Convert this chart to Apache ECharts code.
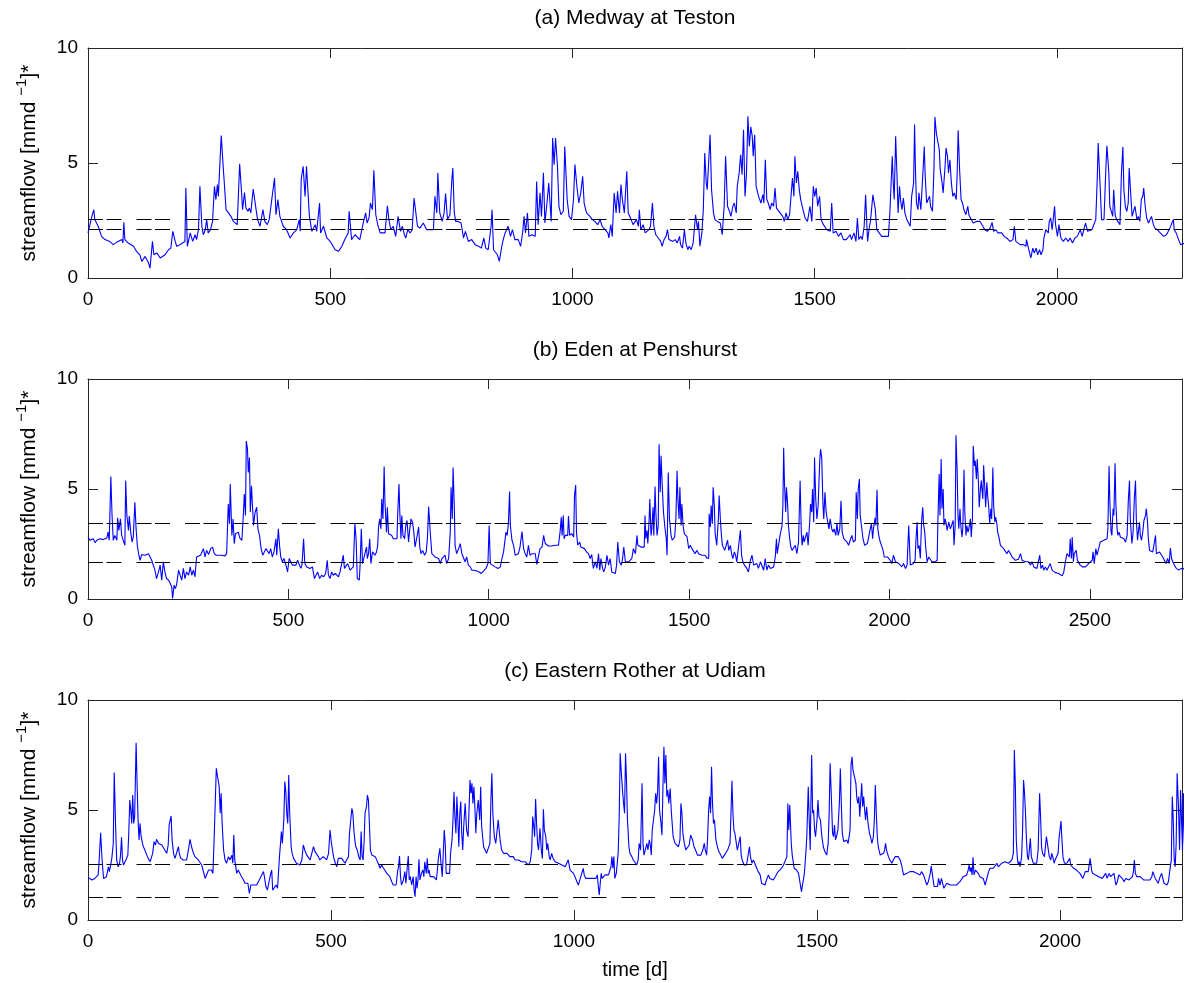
<!DOCTYPE html>
<html>
<head>
<meta charset="utf-8">
<script src="https://cdn.jsdelivr.net/npm/echarts@6/dist/echarts.min.js"></script>
<style>
html, body { margin: 0; background: #fff; }
#chart { width: 1194px; height: 983px; }
</style>
</head>
<body>
<div id="chart"></div>
<script>
// panel titles, axis ranges and tick labels
const titles = ['(a) Medway at Teston', '(b) Eden at Penshurst', '(c) Eastern Rother at Udiam'];
const xMax = [2258, 2730, 2251];
const xStep = 500;
const yTicks = [0, 5, 10];

// dashed reference levels per catchment
const medwayLevels = [2.57, 2.13];
const edenLevels = [3.46, 1.68];
const rotherLevels = [2.52, 1.05];

// [day, streamflow]
const medway = [
[0,1.96],[8,2.68],[12,2.97],[14,2.54],[21,2.25],[28,1.81],[35,1.67],[45,1.59],[52,1.45],[59,1.55],[70,1.67],[72,1.52],[74,2.42],[76,1.67],[83,1.52],[87,1.59],[94,1.38],[100,1.16],[107,1.01],[111,0.72],[118,0.94],[125,0.65],[128,0.43],[133,1.59],[136,1.01],[142,1.09],[149,0.87],[159,1.01],[166,1.23],[171,1.30],[175,2.03],[180,1.59],[183,1.38],[190,1.45],[195,1.52],[200,1.59],[202,3.91],[205,1.38],[211,1.96],[216,1.59],[221,1.88],[224,1.67],[228,2.10],[231,3.99],[235,2.25],[238,1.88],[242,2.10],[245,2.54],[248,1.96],[253,2.10],[257,2.46],[261,3.99],[264,3.41],[267,4.06],[269,3.55],[275,6.19],[279,4.86],[285,2.97],[290,2.83],[295,2.68],[300,2.46],[303,2.54],[308,2.32],[313,4.97],[317,3.70],[319,2.97],[323,3.72],[326,3.04],[330,2.90],[333,3.04],[336,2.83],[341,3.87],[345,3.26],[350,2.54],[355,2.25],[361,2.97],[365,2.46],[370,2.32],[374,2.54],[385,4.35],[388,2.75],[392,3.41],[396,2.68],[403,2.25],[410,2.10],[417,1.74],[424,1.96],[431,2.10],[436,2.54],[438,2.03],[440,4.28],[444,4.86],[448,3.55],[451,4.86],[457,2.68],[462,2.03],[469,2.32],[472,2.03],[478,3.26],[480,1.96],[486,2.25],[493,1.74],[500,1.59],[510,1.23],[517,1.16],[524,1.38],[530,1.67],[537,1.96],[539,2.90],[544,1.67],[551,1.88],[561,1.67],
[568,2.39],[573,2.83],[576,2.39],[580,2.61],[583,3.26],[587,2.97],[590,4.68],[594,2.75],[598,2.32],[603,1.96],[607,1.88],[613,1.96],[618,3.14],[621,2.54],[625,2.10],[630,2.25],[635,1.81],[640,2.68],[645,2.03],[649,2.25],[653,1.88],[656,1.74],[660,2.10],[665,1.96],[669,2.10],[673,3.48],[677,3.41],[680,2.25],[685,2.17],[692,2.39],[699,2.10],[706,2.10],[713,2.10],[716,3.55],[720,2.83],[722,4.57],[726,2.83],[731,2.46],[735,2.83],[738,3.67],[742,2.54],[747,2.75],[751,4.28],[753,4.78],[756,2.83],[759,2.46],[764,2.46],[770,2.39],[775,1.74],[779,2.03],[785,1.59],[792,1.67],[799,1.45],[806,1.38],[812,1.30],[817,1.74],[821,1.30],[826,1.23],[832,2.25],[834,2.97],[837,1.23],[841,1.30],[845,1.01],[849,0.72],[854,1.38],[857,1.67],[861,1.96],[864,1.88],[867,2.25],[872,1.81],[876,2.10],[881,1.67],[888,1.67],[893,1.38],[897,1.96],[900,2.68],[903,1.96],[907,2.83],[910,1.81],[916,1.88],[923,1.81],[926,4.20],[929,2.32],[933,3.70],[936,2.68],[940,4.57],[943,2.39],[948,3.41],[951,4.13],[956,2.46],[959,6.09],[962,4.93],[965,6.09],[969,4.86],[972,3.12],[976,2.75],[981,2.90],[984,5.72],[989,3.41],[993,2.68],[998,2.54],[1002,3.41],[1005,4.93],[1009,4.00],[1013,3.26],[1017,3.70],[1021,4.42],[1024,3.26],[1029,2.83],[1036,2.68],[1041,2.54],[1046,2.46],[1052,2.32],[1057,2.54],[1061,2.25],[1067,2.10],[1073,1.96],[1075,1.74],[1079,2.32],[1082,1.81],[1086,3.70],[1090,2.83],[1093,3.77],[1097,2.83],[1100,4.06],[1103,3.41],[1107,2.83],[1112,4.64],[1115,2.83],[1121,2.54],[1125,2.32],[1129,2.39],
[1132,2.54],[1136,2.25],[1138,2.97],[1141,2.10],[1146,2.32],[1150,1.96],[1153,1.88],[1158,2.10],[1161,2.25],[1165,3.26],[1168,2.25],[1172,1.88],[1177,1.74],[1182,1.59],[1185,1.38],[1189,1.67],[1193,1.81],[1196,2.10],[1199,1.67],[1203,1.74],[1207,1.59],[1212,1.67],[1216,1.52],[1221,1.81],[1223,1.45],[1227,1.30],[1231,2.10],[1234,1.52],[1238,1.23],[1241,1.38],[1245,1.23],[1249,1.52],[1254,2.75],[1258,2.10],[1260,2.46],[1263,1.38],[1267,1.96],[1270,2.97],[1273,5.43],[1276,4.13],[1278,3.84],[1281,3.91],[1284,6.23],[1287,3.84],[1291,2.83],[1294,2.54],[1299,2.46],[1305,2.39],[1309,1.88],[1313,3.12],[1316,5.29],[1320,3.12],[1324,2.90],[1327,2.68],[1331,3.12],[1334,3.26],[1338,2.83],[1340,3.99],[1344,4.57],[1347,5.36],[1350,4.49],[1353,6.45],[1356,3.55],[1359,4.49],[1362,7.03],[1365,5.72],[1368,6.57],[1371,6.16],[1373,5.29],[1376,6.23],[1379,3.99],[1384,3.55],[1389,3.26],[1393,3.62],[1395,3.26],[1398,5.14],[1401,3.41],[1404,3.26],[1408,2.97],[1411,3.26],[1415,3.12],[1418,3.91],[1421,3.04],[1426,2.90],[1430,2.83],[1434,2.68],[1437,2.46],[1441,2.83],[1444,2.54],[1448,2.75],[1451,3.55],[1454,4.35],[1457,3.55],[1459,5.29],[1462,4.13],[1465,4.64],[1468,3.84],[1471,3.41],[1475,3.04],[1480,2.61],[1485,2.46],[1490,3.12],[1494,2.46],[1497,3.99],[1500,3.55],[1503,3.91],[1506,3.12],[1510,3.55],[1513,2.54],[1518,2.32],[1525,2.10],[1532,2.03],[1535,3.26],[1538,1.96],[1544,2.03],[1549,1.81],[1554,1.96],[1559,1.67],[1565,1.67],[1569,1.59],[1573,1.88],[1576,1.67],[1581,1.96],[1585,1.59],[1588,2.61],[1591,1.67],[1595,1.81],[1598,1.67],[1602,2.25],[1605,3.62],[1609,1.59],[1613,2.25],[1615,2.46],[1620,3.62],[1622,3.70],[1625,2.97],[1628,2.10],[1633,1.96],[1638,1.81],[1645,1.81],[1652,1.81],[1655,2.83],[1660,5.29],[1662,4.13],[1664,3.41],[1667,6.16],[1670,4.28],[1672,2.83],[1675,3.99],[1677,3.41],[1680,2.97],[1683,3.48],[1686,2.83],[1690,2.54],[1697,2.25],
[1700,3.55],[1704,4.13],[1706,6.67],[1708,4.57],[1710,3.26],[1713,2.97],[1715,3.70],[1719,2.97],[1721,2.90],[1724,4.86],[1726,5.72],[1728,4.42],[1731,3.26],[1734,3.41],[1737,3.55],[1739,3.12],[1743,2.90],[1746,4.71],[1748,7.00],[1751,6.30],[1754,6.23],[1757,5.58],[1759,4.71],[1762,4.28],[1765,3.70],[1769,4.86],[1771,5.65],[1774,5.29],[1776,4.57],[1779,5.14],[1782,4.13],[1785,3.55],[1788,3.70],[1792,3.41],[1794,4.57],[1796,6.42],[1799,4.71],[1802,3.41],[1805,3.26],[1808,2.97],[1812,2.75],[1816,3.12],[1818,2.75],[1823,2.54],[1827,2.39],[1834,2.46],[1841,2.46],[1847,2.25],[1851,2.10],[1856,2.03],[1862,2.17],[1866,2.42],[1869,2.03],[1874,2.10],[1878,1.96],[1882,1.96],[1886,1.96],[1891,1.81],[1896,1.74],[1903,1.59],[1909,1.67],[1912,2.25],[1915,1.59],[1919,1.52],[1924,1.45],[1931,1.45],[1936,1.38],[1937,1.67],[1941,1.30],[1946,0.87],[1950,1.30],[1953,1.09],[1957,1.30],[1960,1.01],[1964,1.23],[1967,1.01],[1971,1.23],[1973,1.74],[1977,2.10],[1982,1.96],[1984,2.46],[1987,2.61],[1990,2.10],[1995,3.12],[1997,2.32],[2001,1.81],[2004,2.32],[2008,1.74],[2013,1.59],[2018,1.74],[2023,1.59],[2027,1.74],[2032,1.52],[2037,1.74],[2042,1.81],[2048,2.10],[2052,1.81],[2056,2.17],[2059,2.39],[2063,2.03],[2067,2.10],[2072,2.10],[2076,2.17],[2080,2.54],[2083,4.28],[2085,5.87],[2089,3.99],[2092,2.54],[2097,2.54],[2101,4.86],[2103,5.75],[2107,4.57],[2109,3.12],[2113,2.83],[2115,2.68],[2117,3.84],[2120,2.75],[2123,2.54],[2127,2.46],[2130,2.32],[2133,4.57],[2136,5.70],[2138,3.84],[2141,3.12],[2144,2.90],[2147,3.26],[2149,4.78],[2152,3.70],[2155,2.68],[2158,2.61],[2161,3.12],[2165,2.54],[2168,2.68],[2171,2.46],[2174,3.41],[2177,3.55],[2179,3.91],[2182,3.12],[2185,2.61],[2189,2.39],[2192,2.42],[2195,2.68],[2199,2.32],[2202,2.17],[2207,2.10],[2213,1.96],[2220,1.81],[2226,1.88],[2230,1.81],[2233,2.17],[2237,2.25],[2240,2.54],[2242,2.10],[2246,1.96],[2251,1.67],[2255,1.45],[2259,1.38],[2264,1.52]
];

const eden = [
[0,2.82],[5,2.67],[9,2.59],[13,2.74],[18,2.56],[22,2.67],[26,2.59],[30,2.74],[34,2.67],[38,2.70],[42,2.74],[47,2.77],[50,3.04],[53,2.67],[57,5.57],[60,3.80],[63,2.67],[67,2.89],[72,2.67],[74,3.69],[77,3.12],[81,3.64],[84,2.89],[88,2.89],[92,2.44],[94,5.38],[97,3.80],[101,3.12],[103,3.77],[107,2.97],[110,2.59],[113,2.82],[117,4.40],[120,3.19],[123,2.44],[127,1.99],[130,1.76],[134,2.02],[142,1.99],[151,2.06],[155,1.91],[159,1.76],[163,1.69],[167,1.31],[171,0.93],[176,1.23],[180,1.54],[184,0.86],[188,1.69],[192,1.23],[196,0.93],[201,0.86],[205,0.78],[209,0.56],[211,0.03],[215,0.63],[218,0.48],[221,0.63],[226,1.31],[230,1.08],[234,0.86],[238,1.39],[242,0.93],[246,1.23],[251,1.08],[255,1.46],[259,1.08],[263,1.31],[267,1.01],[271,1.91],[275,1.91],[281,1.99],[288,2.29],[292,1.91],[296,2.21],[301,2.02],[306,2.29],[311,2.36],[315,2.06],[320,1.99],[325,1.99],[334,1.99],[342,1.96],[346,2.06],[350,4.32],[353,3.42],[355,5.23],[359,2.89],[362,3.64],[365,2.52],[368,2.97],[371,2.97],[375,3.04],[379,2.77],[384,2.67],[388,3.95],[390,4.77],[393,3.80],[395,7.18],[398,6.81],[400,5.75],[403,6.43],[405,3.95],[408,5.15],[410,4.40],[413,3.34],[417,3.95],[421,4.17],[424,3.19],[428,2.89],[432,2.29],[436,1.99],[440,1.91],[444,2.29],[448,2.21],[452,2.06],[456,2.29],[460,1.91],[464,2.14],[469,2.74],[471,1.99],[475,3.19],[478,2.44],[481,1.91],[485,1.69],[489,1.84],[493,1.61],[498,1.23],[502,1.84],[506,1.69],[510,1.54],[514,1.61],[519,1.54],[523,1.76],[527,1.69],[531,1.39],[534,1.54],[538,2.74],[541,1.61],[546,1.46],[550,1.54],[554,1.39],[560,1.46],[565,0.93],[569,1.08],[573,1.23],[578,0.93],[583,1.08],[588,1.01],[593,1.16],[597,1.76],[600,1.08],[604,0.93],[608,1.23],[612,1.08],[617,1.16],[621,1.08],[625,1.01],[629,1.23],[633,1.31],[637,1.99],[640,1.39],[644,1.39],[648,1.61],[654,1.31],[658,1.39],[662,1.46],[666,3.42],[669,2.74],[672,0.93],[677,0.86],
[679,1.54],[682,3.19],[685,1.61],[688,1.61],[692,2.14],[695,2.36],[697,1.84],[700,2.06],[703,2.74],[706,1.61],[710,2.14],[713,2.06],[716,1.99],[720,2.14],[723,2.44],[725,3.27],[728,3.64],[731,3.19],[733,4.55],[736,3.64],[739,6.02],[741,4.40],[745,3.04],[747,4.17],[750,2.97],[754,2.97],[758,2.89],[762,2.74],[766,2.67],[771,2.74],[773,3.95],[776,5.23],[778,3.95],[781,2.74],[783,3.80],[786,2.89],[790,2.74],[793,3.34],[796,3.57],[800,2.59],[803,3.19],[806,3.64],[810,3.49],[813,3.04],[816,2.36],[820,2.74],[825,3.27],[828,2.36],[831,2.06],[835,2.21],[840,1.99],[844,2.14],[847,2.74],[850,4.20],[854,3.04],[858,2.06],[862,1.99],[866,1.91],[870,1.99],[875,1.84],[879,1.61],[883,1.84],[887,1.76],[891,1.99],[895,1.61],[900,1.84],[904,3.04],[906,5.08],[909,3.64],[911,5.98],[914,4.25],[916,2.44],[920,2.06],[925,2.29],[929,2.52],[933,2.06],[937,2.06],[941,1.69],[945,1.91],[949,1.54],[954,1.46],[958,1.31],[964,1.31],[970,1.27],[976,1.23],[981,1.16],[987,1.27],[993,1.39],[998,1.61],[1001,3.34],[1004,1.61],[1009,1.54],[1016,1.46],[1023,1.39],[1029,1.46],[1033,1.84],[1037,2.14],[1040,2.06],[1043,3.04],[1046,2.89],[1049,3.42],[1052,4.89],[1054,3.34],[1058,2.67],[1062,2.44],[1066,1.99],[1070,1.99],[1074,2.06],[1078,2.36],[1083,3.07],[1087,2.29],[1091,2.06],[1095,1.91],[1099,2.44],[1103,1.99],[1108,2.06],[1112,1.99],[1116,2.06],[1120,1.57],[1124,1.57],[1128,2.29],[1133,2.36],[1137,2.89],[1141,2.52],[1145,2.44],[1149,2.41],[1157,2.41],[1166,2.44],[1174,2.44],[1178,3.04],[1181,3.72],[1183,2.89],[1186,3.80],[1188,2.74],[1191,2.89],[1194,2.82],[1197,2.89],[1199,3.77],[1202,2.89],[1204,2.82],[1207,2.97],[1212,2.82],[1214,4.70],[1217,5.18],[1219,3.04],[1222,2.44],[1227,2.59],[1230,2.36],[1234,2.44],[1239,2.29],[1244,2.14],[1249,2.06],[1253,1.84],[1257,2.02],[1261,1.39],[1266,1.69],[1270,1.39],[1274,2.06],[1277,1.31],[1280,1.84],[1284,1.39],[1287,1.23],[1291,1.46],[1295,1.99],[1299,1.54],[1303,1.84],[1307,1.23],[1311,1.16],[1316,1.16],[1319,1.54],[1322,2.59],[1326,1.69],[1331,1.54],[1334,1.84],[1337,2.36],[1341,1.69],[1345,1.61],[1349,1.69],[1353,1.61],[1357,1.84],[1361,2.29],[1366,2.06],
[1370,2.89],[1372,2.44],[1376,2.36],[1380,2.36],[1384,2.36],[1388,2.36],[1390,3.80],[1392,2.74],[1395,3.12],[1397,2.52],[1400,3.49],[1402,4.55],[1405,2.89],[1407,3.19],[1410,4.17],[1412,2.89],[1415,5.11],[1417,3.95],[1420,2.89],[1423,3.34],[1425,7.03],[1428,4.85],[1430,6.51],[1433,5.15],[1436,3.95],[1440,3.19],[1443,2.74],[1445,1.99],[1448,5.75],[1451,3.64],[1455,2.89],[1458,2.67],[1461,2.59],[1464,2.82],[1467,3.64],[1470,5.83],[1472,4.55],[1475,3.64],[1477,5.08],[1480,3.34],[1482,4.32],[1485,3.34],[1488,2.97],[1491,2.89],[1495,2.82],[1499,2.29],[1503,2.44],[1507,2.29],[1511,2.36],[1515,2.06],[1519,2.21],[1524,2.06],[1528,2.02],[1532,1.99],[1536,1.96],[1540,1.99],[1544,1.87],[1549,1.84],[1550,3.87],[1553,3.27],[1555,4.25],[1558,3.42],[1560,5.08],[1563,4.25],[1565,2.97],[1569,2.44],[1573,3.64],[1575,4.70],[1578,3.64],[1580,3.04],[1583,2.44],[1586,2.36],[1589,2.21],[1593,2.29],[1596,2.67],[1599,2.21],[1603,2.44],[1606,2.06],[1609,1.84],[1613,2.14],[1616,1.99],[1619,1.69],[1623,1.69],[1628,3.12],[1631,1.99],[1634,1.69],[1638,1.54],[1641,1.61],[1644,1.39],[1648,1.23],[1653,1.76],[1657,1.99],[1661,1.54],[1665,1.54],[1669,1.61],[1673,1.39],[1678,1.69],[1682,1.61],[1686,1.31],[1690,1.84],[1694,1.31],[1698,1.54],[1703,1.39],[1707,1.39],[1711,1.46],[1715,1.91],[1718,2.74],[1720,2.06],[1723,2.14],[1727,2.89],[1732,3.34],[1734,4.25],[1736,6.88],[1738,5.30],[1741,3.95],[1743,5.08],[1746,4.25],[1748,3.34],[1751,2.74],[1754,2.36],[1757,2.21],[1761,2.14],[1765,2.44],[1769,2.06],[1773,2.59],[1777,5.38],[1780,3.04],[1782,2.44],[1785,2.89],[1787,2.59],[1791,2.52],[1794,3.04],[1797,2.44],[1801,3.49],[1803,4.32],[1806,3.95],[1808,5.00],[1811,3.49],[1813,6.43],[1816,4.55],[1819,3.64],[1822,4.25],[1826,6.28],[1828,6.81],[1831,6.39],[1834,4.32],[1836,3.64],[1839,4.85],[1842,3.95],[1846,3.49],[1849,3.19],[1852,3.64],[1856,3.19],[1859,3.04],[1862,3.19],[1866,2.89],[1869,3.42],[1872,2.89],[1876,3.19],[1879,4.47],[1882,3.04],[1886,2.74],[1890,2.67],[1894,2.59],[1898,2.44],[1902,2.67],[1906,2.89],[1910,2.59],[1915,2.67],[1917,4.85],[1920,3.64],[1922,5.00],[1925,5.45],[1927,3.80],[1930,3.34],[1934,2.74],[1938,2.44],[1942,2.36],[1945,2.52],[1949,2.44],[1952,3.19],[1955,3.42],[1958,2.74],[1960,3.19],[1964,3.69],[1966,3.34],[1969,4.97],[1971,3.19],[1974,2.82],[1977,2.59],[1980,2.44],[1984,2.21],[1987,1.91],[1991,1.84],[1995,1.91],[1999,1.84],[2002,1.76],[2006,1.61],[2010,1.99],[2015,1.69],[2019,1.61],[2023,1.61],[2027,1.61],[2031,1.46],[2035,1.61],[2040,1.39],[2044,1.54],[2048,3.34],[2052,1.54],
[2056,1.61],[2060,1.61],[2064,1.76],[2066,2.67],[2069,3.49],[2071,2.29],[2074,2.44],[2077,1.84],[2080,3.49],[2083,4.17],[2085,3.42],[2088,3.04],[2090,2.44],[2094,1.69],[2098,1.91],[2102,1.84],[2106,1.69],[2110,1.76],[2114,1.69],[2119,1.76],[2121,3.64],[2124,5.68],[2126,3.80],[2129,6.36],[2131,4.10],[2134,5.00],[2136,3.34],[2139,3.64],[2141,3.49],[2144,3.12],[2148,3.49],[2152,3.19],[2156,3.12],[2159,3.57],[2161,2.44],[2164,3.34],[2166,7.44],[2169,5.75],[2171,3.80],[2173,3.19],[2176,4.10],[2178,3.34],[2181,2.82],[2183,3.19],[2186,5.87],[2188,3.95],[2191,2.89],[2193,3.34],[2196,3.04],[2198,3.19],[2202,3.64],[2204,2.82],[2207,3.64],[2209,6.96],[2212,6.05],[2214,6.28],[2217,5.45],[2219,6.36],[2222,5.30],[2224,4.17],[2227,5.00],[2229,5.38],[2233,4.55],[2235,6.08],[2238,5.00],[2240,4.17],[2243,5.30],[2245,4.70],[2248,4.10],[2250,3.42],[2253,4.10],[2255,3.64],[2258,5.98],[2260,4.25],[2263,3.49],[2265,3.72],[2268,3.42],[2270,3.04],[2273,2.82],[2277,2.44],[2281,2.44],[2285,2.29],[2289,2.21],[2293,2.06],[2297,2.21],[2302,2.06],[2306,1.91],[2310,1.99],[2314,1.76],[2318,1.84],[2322,1.81],[2327,2.06],[2331,1.76],[2335,1.69],[2339,1.69],[2343,1.76],[2347,1.69],[2352,1.54],[2356,1.69],[2360,1.46],[2364,1.54],[2368,1.39],[2372,1.39],[2375,1.99],[2378,1.39],[2382,1.54],[2385,1.31],[2389,1.46],[2393,1.31],[2397,1.39],[2401,1.61],[2406,1.31],[2410,1.23],[2414,1.20],[2418,1.11],[2422,1.16],[2426,1.08],[2431,1.05],[2435,1.23],[2439,1.69],[2443,2.06],[2446,2.14],[2449,1.91],[2451,2.74],[2454,1.84],[2456,2.82],[2459,1.69],[2461,2.06],[2464,2.14],[2466,2.21],[2469,1.76],[2472,1.69],[2476,1.54],[2481,1.46],[2485,1.46],[2489,1.46],[2493,1.54],[2497,1.61],[2501,1.54],[2506,1.76],[2508,2.14],[2511,1.61],[2515,2.29],[2518,1.99],[2522,2.29],[2526,2.59],[2530,2.67],[2535,2.67],[2539,2.74],[2543,2.74],[2545,3.19],[2548,6.05],[2550,4.40],[2553,3.04],[2555,2.89],[2558,4.10],[2560,3.80],[2563,6.17],[2565,4.32],[2568,3.19],[2570,2.89],[2573,3.04],[2576,2.82],[2580,2.89],[2585,2.74],[2589,2.59],[2593,2.89],[2596,4.47],[2599,5.38],[2601,3.64],[2605,2.52],[2608,3.04],[2611,4.55],[2614,5.38],[2616,3.64],[2619,2.67],[2621,3.04],[2624,3.49],[2626,2.89],[2629,2.67],[2632,3.04],[2635,3.57],[2639,3.80],[2641,4.10],[2644,3.49],[2646,2.74],[2649,2.21],[2653,2.14],[2657,2.14],[2661,2.06],[2664,2.89],[2666,2.06],[2669,2.06],[2674,2.14],[2678,2.06],[2682,1.91],[2686,1.76],[2690,1.61],[2694,1.84],[2698,1.61],[2701,2.32],[2704,1.84],[2707,1.69],[2711,1.54],[2716,1.39],[2722,1.31],[2728,1.39],[2733,1.36],[2738,1.46]
];

const rother = [
[0,1.94],[4,1.89],[8,1.82],[11,1.82],[14,1.89],[18,1.89],[21,2.05],[23,2.73],[26,3.97],[29,2.73],[32,1.89],[35,1.89],[38,1.97],[42,2.42],[44,2.20],[47,2.27],[49,2.80],[52,3.48],[54,6.70],[57,4.09],[59,2.73],[62,2.42],[65,2.58],[67,2.95],[69,3.76],[71,2.73],[73,2.50],[75,2.42],[78,2.73],[80,2.80],[82,2.95],[84,4.02],[86,5.45],[88,5.00],[90,4.39],[92,5.68],[94,4.39],[96,4.70],[99,8.06],[101,6.21],[103,4.55],[105,3.64],[107,4.39],[109,3.86],[112,3.48],[114,3.33],[117,3.18],[121,2.95],[124,2.80],[128,2.65],[130,2.58],[133,3.03],[136,3.56],[139,3.41],[141,3.67],[145,3.48],[148,3.56],[152,3.41],[155,3.33],[158,3.18],[162,3.03],[165,3.41],[167,4.32],[169,4.39],[171,4.73],[173,3.64],[176,3.03],[179,2.80],[182,2.73],[186,3.33],[188,3.00],[191,2.80],[193,2.73],[196,2.73],[200,2.80],[203,2.73],[206,3.11],[210,3.67],[213,3.33],[217,3.03],[220,2.88],[224,2.88],[227,2.73],[230,2.65],[234,2.50],[237,2.42],[241,1.89],[244,1.82],[248,2.27],[251,2.35],[254,2.27],[257,2.12],[259,3.33],[262,5.45],[264,6.89],[266,6.59],[268,6.67],[270,6.06],[272,4.85],[274,5.76],[276,4.39],[279,3.18],[282,2.73],[285,2.58],[289,2.88],[292,2.73],[296,2.95],[298,2.58],[300,3.86],[302,2.73],[306,2.12],[309,2.27],[313,2.35],[316,1.97],[320,1.82],[323,1.67],[326,1.59],[329,1.67],[332,1.21],[335,1.59],[337,1.67],[340,1.59],[344,1.52],[347,1.59],[350,1.67],[354,1.89],[357,1.82],[361,2.20],[363,1.97],[366,1.52],[369,1.36],[372,1.44],[376,2.12],[378,2.27],[380,1.36],[383,1.44],[387,1.59],[390,1.44],[392,1.44],[394,2.88],[396,2.95],[398,4.02],[400,3.48],[403,4.62],[405,6.29],[407,5.83],[409,4.85],[411,4.39],[413,6.59],[415,4.85],[418,3.33],[420,3.03],[423,2.80],[426,2.73],[429,2.58],[433,2.50],[436,2.50],[440,2.73],[443,3.41],[447,3.11],[450,2.95],[453,2.88],[457,2.73],[460,2.80],[464,3.33],[467,3.11],[471,3.03],[474,2.88],[477,2.73],[481,2.73],[484,2.88],[488,2.80],[491,2.73],[495,3.03],[498,4.09],[501,3.48],[503,3.18],[506,2.80],[509,2.58],[512,2.42],[515,2.80],[519,2.73],[522,2.80],[525,2.73],[529,2.58],[532,2.73],[536,2.88],[538,3.94],[541,3.86],[543,5.08],[545,4.85],[547,4.09],[549,3.64],[551,3.33],[554,3.18],[557,2.88],[560,2.73],
[562,4.02],[564,2.88],[566,2.73],[568,3.48],[570,4.85],[573,5.15],[575,5.68],[577,5.45],[579,4.39],[581,3.18],[584,2.95],[587,2.88],[591,2.88],[594,2.80],[597,2.58],[601,2.35],[604,2.50],[608,2.35],[611,2.27],[615,2.12],[618,2.05],[621,1.97],[625,1.74],[628,1.59],[632,1.67],[634,1.59],[637,2.20],[639,2.42],[641,2.91],[643,1.97],[645,1.59],[649,1.82],[652,2.20],[654,1.67],[656,1.67],[659,2.91],[661,1.82],[663,1.97],[666,1.59],[669,1.97],[671,1.36],[673,1.06],[675,1.97],[677,1.44],[679,1.82],[681,2.76],[683,1.82],[686,2.12],[689,2.27],[691,1.97],[693,2.65],[696,2.12],[698,2.80],[700,2.12],[702,2.27],[704,1.97],[707,1.89],[711,1.97],[714,2.05],[717,1.82],[721,2.80],[724,3.26],[726,2.65],[729,1.97],[731,3.03],[733,4.09],[735,3.48],[737,2.12],[740,2.20],[744,2.12],[746,3.03],[749,3.64],[751,4.55],[753,5.83],[755,4.70],[757,3.94],[759,5.61],[761,4.55],[763,3.33],[765,4.85],[767,5.38],[769,3.94],[771,3.18],[773,4.24],[776,5.30],[779,4.09],[782,3.79],[784,5.00],[786,6.36],[788,5.76],[790,6.21],[792,5.30],[794,6.06],[796,5.15],[798,3.94],[800,4.85],[803,5.45],[806,4.55],[808,6.06],[810,4.24],[814,3.33],[817,3.18],[820,3.03],[824,3.11],[827,3.48],[829,5.45],[831,6.67],[833,4.85],[836,3.79],[839,3.48],[842,3.48],[844,4.55],[846,4.62],[848,3.64],[851,3.18],[855,3.03],[858,3.11],[862,3.03],[865,2.95],[868,2.88],[872,2.80],[875,2.88],[879,2.73],[882,2.80],[886,2.73],[889,2.73],[892,2.65],[896,2.58],[899,2.65],[903,2.58],[906,2.50],[910,2.65],[913,3.18],[915,4.70],[917,4.32],[919,3.79],[921,5.50],[923,4.39],[925,3.48],[927,3.18],[930,4.17],[933,3.11],[935,2.80],[937,5.03],[939,4.09],[942,3.79],[944,3.18],[946,3.48],[949,2.88],[951,2.73],[954,3.03],[957,2.80],[960,2.80],[961,2.65],[964,2.73],[968,2.58],[971,2.58],[975,2.50],[978,2.50],[982,2.42],[985,2.58],[988,2.73],[992,2.27],[995,2.20],[999,2.12],[1002,1.97],[1006,1.74],[1009,1.59],[1012,1.82],[1016,1.89],[1019,2.35],[1021,2.05],[1024,1.89],[1027,1.82],[1031,1.89],[1034,1.97],[1038,1.89],[1042,1.82],[1045,1.89],[1048,2.05],[1050,1.52],[1052,1.14],[1054,1.67],[1056,2.12],[1058,1.89],[1061,1.97],[1064,2.05],[1067,2.12],[1071,2.05],[1074,1.97],[1076,2.42],[1078,2.88],[1080,2.35],[1082,2.88],[1084,1.89],[1087,2.12],[1089,2.58],[1091,3.11],[1093,4.70],[1095,7.58],[1097,6.82],[1100,5.83],[1102,5.30],[1104,4.85],[1106,7.58],[1108,6.36],[1110,4.55],[1113,3.33],[1115,3.03],[1119,2.88],[1122,2.73],[1126,2.73],
[1129,2.50],[1132,2.73],[1134,3.48],[1137,3.18],[1140,6.21],[1142,3.48],[1144,2.95],[1147,3.03],[1150,3.48],[1152,3.18],[1155,3.64],[1157,3.41],[1159,2.95],[1161,4.09],[1164,4.17],[1166,5.00],[1168,5.76],[1170,5.30],[1172,5.83],[1174,7.42],[1176,5.00],[1179,4.39],[1181,3.86],[1183,6.06],[1185,7.88],[1187,6.21],[1189,7.50],[1191,5.61],[1193,5.91],[1195,5.30],[1198,5.98],[1200,5.00],[1202,4.39],[1204,3.79],[1208,3.48],[1211,3.41],[1215,3.33],[1218,3.64],[1220,5.30],[1222,4.85],[1224,3.94],[1227,3.48],[1230,3.18],[1233,3.11],[1237,3.41],[1240,3.86],[1244,3.64],[1247,3.33],[1250,3.18],[1254,2.95],[1257,2.88],[1261,2.95],[1265,3.18],[1268,3.48],[1270,3.18],[1273,2.95],[1275,3.79],[1277,5.00],[1279,5.61],[1281,4.85],[1283,6.97],[1285,5.30],[1287,4.39],[1289,4.55],[1292,3.64],[1295,3.33],[1298,3.11],[1302,2.95],[1305,2.80],[1309,2.73],[1312,3.03],[1316,3.18],[1319,3.18],[1321,3.48],[1323,4.85],[1325,6.33],[1327,4.85],[1329,4.09],[1331,3.94],[1333,3.64],[1336,3.18],[1339,3.18],[1342,3.79],[1344,2.95],[1346,2.73],[1350,2.50],[1353,2.58],[1355,2.50],[1359,2.58],[1361,3.33],[1363,2.88],[1366,2.58],[1369,2.73],[1372,2.58],[1376,2.35],[1379,2.20],[1383,2.05],[1386,1.67],[1390,1.59],[1393,1.59],[1396,1.82],[1400,2.05],[1403,1.89],[1407,1.97],[1410,1.82],[1414,1.97],[1417,1.89],[1420,2.20],[1424,2.12],[1427,2.35],[1431,2.50],[1434,2.42],[1438,2.88],[1440,5.30],[1442,4.09],[1444,5.23],[1447,3.48],[1449,2.95],[1451,3.03],[1453,2.35],[1455,2.27],[1458,2.27],[1462,2.12],[1465,2.20],[1468,1.29],[1471,1.29],[1474,2.12],[1477,3.03],[1479,3.79],[1482,6.06],[1484,4.55],[1486,3.18],[1489,7.50],[1491,4.85],[1493,5.00],[1495,4.09],[1497,3.79],[1500,4.55],[1502,5.45],[1504,4.70],[1507,4.55],[1510,3.79],[1513,3.33],[1516,3.11],[1520,2.95],[1523,3.48],[1525,4.85],[1527,7.12],[1530,5.30],[1532,3.94],[1534,3.79],[1536,4.32],[1538,3.64],[1540,3.79],[1543,4.09],[1546,5.30],[1548,6.89],[1550,5.30],[1552,3.94],[1555,3.56],[1558,3.64],[1561,3.64],[1564,3.48],[1568,4.09],[1570,7.05],[1572,7.42],[1574,6.82],[1577,6.52],[1580,6.21],[1582,5.53],[1584,5.30],[1586,5.61],[1588,4.70],[1590,5.45],[1592,6.21],[1594,5.15],[1596,5.61],[1598,5.00],[1600,4.55],[1602,5.15],[1605,4.39],[1608,3.94],[1610,3.79],[1613,3.48],[1616,3.79],[1618,4.55],[1620,6.14],[1622,4.85],[1624,3.79],[1626,3.33],[1630,2.95],[1633,2.88],[1637,3.03],[1639,3.18],[1641,3.48],[1643,3.18],[1647,2.88],[1650,2.73],[1654,2.58],[1657,2.73],[1661,2.88],[1664,2.80],[1667,2.88],[1671,2.73],[1674,2.50],[1678,2.05],[1681,2.05],[1685,2.12],[1688,2.05],[1691,2.20],
[1695,2.12],[1698,2.20],[1702,2.27],[1705,2.12],[1709,2.20],[1712,2.05],[1715,2.20],[1719,2.05],[1722,1.97],[1726,1.59],[1729,1.74],[1733,2.12],[1735,2.45],[1738,1.97],[1741,1.52],[1744,1.44],[1748,1.52],[1750,1.89],[1753,1.59],[1756,1.89],[1759,1.97],[1761,1.44],[1764,1.36],[1767,1.67],[1770,1.59],[1774,1.59],[1777,1.52],[1781,1.59],[1784,1.67],[1787,1.59],[1791,1.67],[1794,1.74],[1798,1.82],[1801,1.97],[1805,1.89],[1808,2.05],[1811,2.27],[1813,2.50],[1815,2.20],[1817,2.39],[1819,2.05],[1821,2.85],[1823,2.05],[1826,2.27],[1829,2.20],[1832,2.12],[1835,1.97],[1839,1.97],[1842,1.89],[1846,1.59],[1849,1.59],[1853,2.20],[1856,2.35],[1859,2.27],[1863,2.35],[1866,2.42],[1870,2.58],[1873,2.42],[1877,2.50],[1880,2.58],[1883,2.50],[1887,2.65],[1890,2.58],[1894,2.58],[1897,2.65],[1901,2.73],[1904,3.03],[1906,7.73],[1908,6.21],[1910,3.64],[1912,2.88],[1914,2.50],[1916,2.65],[1918,2.42],[1921,2.88],[1923,4.09],[1925,6.36],[1927,5.76],[1929,4.85],[1931,3.64],[1933,2.88],[1935,2.73],[1937,2.73],[1939,3.71],[1941,2.88],[1943,2.73],[1945,2.58],[1949,2.50],[1952,2.58],[1955,3.18],[1958,5.76],[1960,4.70],[1962,3.33],[1964,3.03],[1966,2.95],[1968,2.88],[1970,2.88],[1972,3.79],[1974,3.48],[1976,3.18],[1978,2.88],[1981,2.73],[1983,3.03],[1985,2.88],[1988,2.58],[1990,2.73],[1993,2.73],[1996,3.03],[1998,3.71],[2000,3.71],[2002,4.50],[2004,3.64],[2006,2.88],[2009,2.58],[2012,2.65],[2014,2.58],[2017,2.65],[2020,2.80],[2022,2.50],[2025,2.42],[2028,2.35],[2031,2.35],[2034,2.27],[2038,2.20],[2041,2.12],[2045,2.20],[2047,1.89],[2049,1.97],[2052,2.20],[2055,2.27],[2058,2.20],[2060,2.27],[2062,2.80],[2065,2.27],[2067,2.12],[2070,2.12],[2073,2.05],[2077,1.97],[2080,1.97],[2084,2.05],[2087,1.89],[2091,1.97],[2094,2.12],[2097,1.89],[2101,2.12],[2104,1.97],[2108,1.89],[2111,2.12],[2115,1.59],[2118,1.74],[2121,2.05],[2125,2.12],[2128,1.89],[2132,1.74],[2135,1.89],[2139,1.97],[2142,1.82],[2145,1.74],[2149,1.97],[2151,2.20],[2153,2.73],[2155,2.12],[2158,1.97],[2161,2.05],[2165,1.97],[2168,1.89],[2172,1.82],[2175,1.74],[2178,1.82],[2182,1.74],[2185,1.82],[2189,1.97],[2191,2.20],[2193,2.12],[2196,1.89],[2199,1.82],[2202,1.67],[2206,1.97],[2209,2.12],[2212,2.20],[2214,1.67],[2217,1.74],[2220,1.59],[2223,1.74],[2226,2.27],[2229,2.73],[2231,5.61],[2233,4.55],[2235,2.73],[2237,2.42],[2239,3.48],[2241,6.67],[2244,5.00],[2246,3.18],[2248,5.91],[2250,4.55],[2252,3.18],[2254,5.76],[2256,3.48]
];

const chart = echarts.init(document.getElementById('chart'));

const font = 'Liberation Sans, Arial, sans-serif';
const frame = '#262626';
const panels = [
    { data: medway, levels: medwayLevels, top: 48, height: 230, titleY: 18 },
    { data: eden, levels: edenLevels, top: 379, height: 220, titleY: 350 },
    { data: rother, levels: rotherLevels, top: 700, height: 220, titleY: 671 }
];

let grid = [], xAxis = [], yAxis = [], series = [], graphic = [];

panels.forEach(function (p, i) {
    grid.push({ left: 88, top: p.top, width: 1094, height: p.height });

    let xBase = {
        type: 'value', gridIndex: i, min: 0, max: xMax[i], interval: xStep,
        axisLine: { show: true, onZero: false, lineStyle: { color: frame, width: 1 } },
        axisTick: { show: true, inside: true, length: 10, lineStyle: { color: frame } },
        splitLine: { show: false }
    };
    xAxis.push(Object.assign({}, xBase, {
        position: 'bottom',
        axisLabel: {
            color: '#000', fontSize: 19, fontFamily: font, margin: 12,
            formatter: function (v) { return v % xStep === 0 ? String(v) : ''; }
        },
        name: i === 2 ? 'time [d]' : '',
        nameLocation: 'middle', nameGap: 40,
        nameTextStyle: { color: '#000', fontSize: 20, fontFamily: font }
    }));
    xAxis.push(Object.assign({}, xBase, { position: 'top', axisLabel: { show: false } }));

    let yBase = {
        type: 'value', gridIndex: i, min: yTicks[0], max: yTicks[yTicks.length - 1], interval: 5,
        axisLine: { show: true, onZero: false, lineStyle: { color: frame, width: 1 } },
        axisTick: { show: true, inside: true, length: 10, lineStyle: { color: frame } },
        splitLine: { show: false }
    };
    yAxis.push(Object.assign({}, yBase, {
        position: 'left',
        axisLabel: { color: '#000', fontSize: 19, fontFamily: font, margin: 10 },
        name: '{t|streamflow [mmd }{s|\u22121}{t|]*}',
        nameLocation: 'middle', nameRotate: 90, nameGap: 44,
        nameTextStyle: {
            color: '#000', fontSize: 21, fontFamily: font,
            rich: {
                t: { fontSize: 21, fontFamily: font, color: '#000', lineHeight: 30 },
                s: { fontSize: 15, fontFamily: font, color: '#000', verticalAlign: 'top', lineHeight: 30 }
            }
        }
    }));
    yAxis.push(Object.assign({}, yBase, { position: 'right', axisLabel: { show: false } }));

    series.push({
        type: 'line',
        xAxisIndex: 2 * i, yAxisIndex: 2 * i,
        data: p.data,
        showSymbol: false,
        lineStyle: { color: '#0000ff', width: 1.1 },
        itemStyle: { color: '#0000ff' },
        z: 2,
        markLine: {
            silent: true, symbol: 'none', animation: false,
            label: { show: false },
            lineStyle: { color: '#000', width: 1, type: [15, 3.5, 15, 15] },
            data: p.levels.map(function (v) { return { yAxis: v }; })
        }
    });

    graphic.push({
        type: 'text', x: 635, y: p.titleY,
        style: {
            text: titles[i], fill: '#000', font: '21px ' + font,
            textAlign: 'center', textVerticalAlign: 'middle'
        }
    });
});

chart.setOption({
    animation: false,
    backgroundColor: '#fff',
    grid: grid,
    xAxis: xAxis,
    yAxis: yAxis,
    series: series,
    graphic: graphic
});
</script>
</body>
</html>
